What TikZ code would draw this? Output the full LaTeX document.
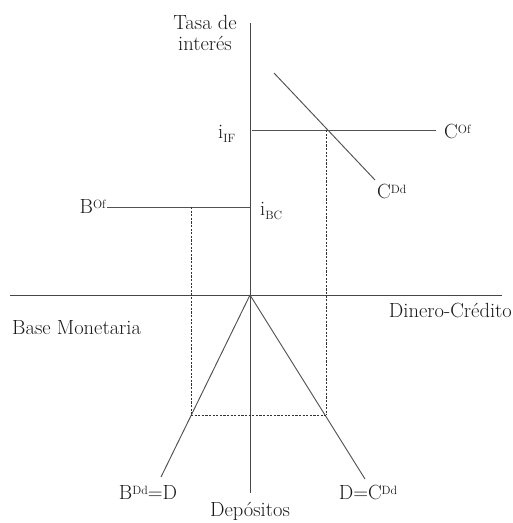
\documentclass[tikz,border=0pt]{standalone}
\begin{document}
\begin{tikzpicture}[x=1pt,y=-1pt,
  axis/.style={draw=black!72,line width=1pt},
  curve/.style={draw=black!68,line width=0.95pt},
  guide/.style={draw=black!80,line width=0.9pt,dash pattern=on 2.2pt off 1.4pt},
  lab/.style={font=\fontsize{20.5}{21}\selectfont,text=black!90,inner sep=0pt}]
\newcommand{\sm}[1]{{\fontsize{12}{12}\selectfont #1}}
\useasboundingbox (0,0) rectangle (513,523);
% coordinates
\coordinate (O) at (250,295);
\coordinate (ytop) at (250,23);
\coordinate (ybot) at (250,493);
\coordinate (xl) at (10,295);
\coordinate (xr) at (502,295);
\coordinate (cd1) at (274,73);
\coordinate (cd2) at (375,180);
\coordinate (cof1) at (252,130);
\coordinate (cof2) at (436,130);
\coordinate (E) at (326.5,130);
\coordinate (bof1) at (107,207);
\coordinate (bof2) at (250,207);
\coordinate (F) at (191,207);
\coordinate (L) at (191,415);
\coordinate (R) at (326.5,415);
\coordinate (lend) at (161,477);
\coordinate (rend) at (365,479);
% axes
\draw[axis] (ytop) -- (ybot);
\draw[axis] (xl) -- (xr);
% curves
\draw[curve] (cd1) -- (cd2);
\draw[curve] (cof1) -- (cof2);
\draw[curve] (bof1) -- (bof2);
\draw[curve] (O) -- (lend);
\draw[curve] (O) -- (rend);
% guides
\draw[guide] (E) -- (R);
\draw[guide] (F) -- (L);
\draw[guide] (L) -- (R);
% labels
\node[lab,align=center] (tasa) at (205,33) {Tasa de\\interés};
\node[lab,anchor=base west] (cofl) at (444,138) {C\raisebox{5pt}{\sm{Of}}};
\node[lab,anchor=base west] (cddl) at (377,198) {C\raisebox{5pt}{\sm{Dd}}};
\node[lab,anchor=base west] (iif) at (218,138) {i\raisebox{-4pt}{\sm{IF}}};
\node[lab,anchor=base east] (bofl) at (106,213) {B\raisebox{5pt}{\sm{Of}}};
\node[lab,anchor=base west] (ibc) at (260,215) {i\raisebox{-4pt}{\sm{BC}}};
\node[lab,anchor=base east] (dc) at (512,317) {Dinero-Crédito};
\node[lab,anchor=base west] (bm) at (12,334) {Base Monetaria};
\node[lab,anchor=base] (bdd) at (148,499) {B\raisebox{5pt}{\sm{Dd}}=D};
\node[lab,anchor=base] (dcdd) at (368,499) {D=C\raisebox{5pt}{\sm{Dd}}};
\node[lab,anchor=base] (dep) at (250,516.5) {Depósitos};
\end{tikzpicture}
\end{document}
